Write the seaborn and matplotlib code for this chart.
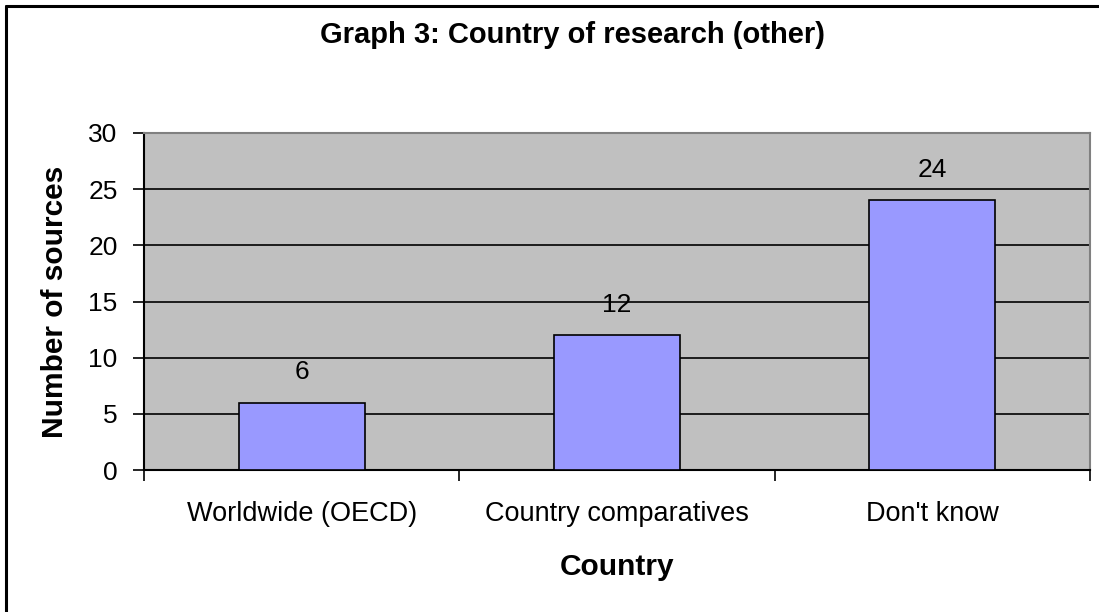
import matplotlib
matplotlib.use("Agg")
import matplotlib.pyplot as plt
import seaborn as sns
import pandas as pd
from matplotlib.lines import Line2D

### DATA ###
categories = ["Worldwide (OECD)", "Country comparatives", "Don't know"]
sources = [6, 12, 24]
y_ticks = [0, 5, 10, 15, 20, 25, 30]

df = pd.DataFrame({"Country": categories, "Number of sources": sources})

sns.set_theme(style="white")
plt.rcParams['font.family'] = ['Liberation Sans', 'DejaVu Sans']
plt.rcParams['text.color'] = 'black'
plt.rcParams['axes.labelcolor'] = 'black'
plt.rcParams['xtick.color'] = 'black'
plt.rcParams['ytick.color'] = 'black'

fig = plt.figure(figsize=(10.99, 6.12), dpi=100)
ax = fig.add_axes([144 / 1099, 1 - 470 / 612, (1090 - 144) / 1099, (470 - 133) / 612])
ax.set_facecolor("#C0C0C0")

sns.barplot(data=df, x="Country", y="Number of sources", color="#9999FF",
            saturation=1, width=0.4, edgecolor="black", linewidth=1.2, ax=ax, zorder=3)

ax.set_ylim(0, 30)
ax.set_xlim(-0.5, 2.5)
ax.set_yticks(y_ticks)
ax.set_yticklabels([str(t) for t in y_ticks], fontsize=19)
ax.yaxis.grid(True, color="black", linewidth=1.2, zorder=0)
ax.set_axisbelow(True)

# category labels sit between the boundary ticks
ax.set_xticks([0, 1, 2])
ax.set_xticklabels(categories, fontsize=19.5)
ax.tick_params(axis="x", which="major", length=0, pad=22)
ax.set_xticks([-0.5, 0.5, 1.5, 2.5], minor=True)
ax.tick_params(axis="x", which="minor", bottom=True, direction="out", length=8, width=1.2, color="black")
ax.tick_params(axis="y", direction="out", length=8, width=1.2, color="black", left=True, pad=11)

for side in ["left", "bottom"]:
    ax.spines[side].set_color("black")
    ax.spines[side].set_linewidth(1.5)
for side in ["top", "right"]:
    ax.spines[side].set_color("#808080")
    ax.spines[side].set_linewidth(1.5)

for i, v in enumerate(sources):
    ax.annotate(str(v), (i, v), xytext=(0, 17), textcoords="offset points",
                ha="center", va="baseline", fontsize=19, color="black")

ax.set_xlabel("Country", fontsize=21.5, fontweight="bold", labelpad=19)
ax.set_ylabel("Number of sources", fontsize=21.5, fontweight="bold", labelpad=14)

fig.suptitle("Graph 3: Country of research (other)", fontsize=21, fontweight="bold",
             x=572 / 1099, y=1 - 35 / 612, va="center")

# partial frame: top and left edges only
fig.add_artist(Line2D([6 / 1099, 1], [1 - 6 / 612, 1 - 6 / 612], color="black",
                      linewidth=2.2, transform=fig.transFigure))
fig.add_artist(Line2D([6 / 1099, 6 / 1099], [0, 1 - 6 / 612], color="black",
                      linewidth=2.2, transform=fig.transFigure))

fig.savefig("out.png", dpi=100)
